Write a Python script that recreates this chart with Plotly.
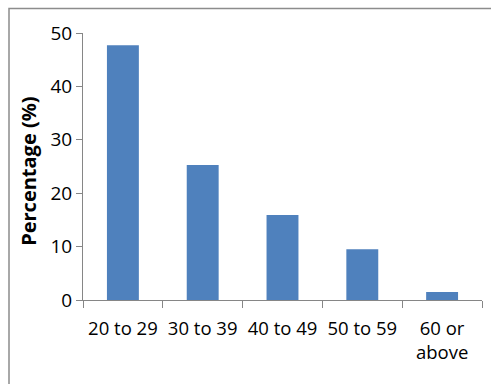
import plotly.graph_objects as go

# Age groups and their share of respondents
age_groups = ["20 to 29", "30 to 39", "40 to 49", "50 to 59", "60 or above"]
age_labels = ["20 to 29", "30 to 39", "40 to 49", "50 to 59", "60 or<br>above"]
percentages = [47.7, 25.3, 15.9, 9.5, 1.5]
y_ticks = [0, 10, 20, 30, 40, 50]
y_title = "<b>Percentage (%)</b>"

W, H = 491, 384
L, R, T, B = 83, 9, 33, 84

fig = go.Figure(
    go.Bar(
        x=age_groups,
        y=percentages,
        width=0.4,
        marker=dict(color="#4f81bd", line=dict(width=0)),
    )
)

axis_grey = "#868686"
fig.update_layout(
    width=W,
    height=H,
    margin=dict(l=L, r=R, t=T, b=B, pad=0, autoexpand=False),
    paper_bgcolor="white",
    plot_bgcolor="white",
    showlegend=False,
    font=dict(family="Open Sans", size=19, color="black"),
    xaxis=dict(
        tickmode="array",
        tickvals=age_groups,
        ticktext=age_labels,
        tickson="boundaries",
        tickangle=0,
        automargin=False,
        ticks="outside",
        ticklen=7,
        tickcolor=axis_grey,
        showline=True,
        linecolor=axis_grey,
        linewidth=1,
        showgrid=False,
        tickfont=dict(size=18.5),
        ticklabelstandoff=12,
    ),
    yaxis=dict(
        range=[0, 50],
        tickvals=y_ticks,
        automargin=False,
        ticks="outside",
        ticklen=6,
        tickcolor=axis_grey,
        showline=True,
        linecolor=axis_grey,
        linewidth=1,
        showgrid=False,
        zeroline=False,
        tickfont=dict(size=19),
    ),
)

pw = W - L - R
ph = H - T - B

# Rotated y-axis title, placed left of the tick labels
fig.add_annotation(
    text=y_title,
    textangle=-90,
    xref="paper",
    yref="paper",
    x=(29 - L) / pw,
    y=0.48,
    xanchor="center",
    yanchor="middle",
    showarrow=False,
    font=dict(size=20, color="black"),
)

# Chart frame around the whole figure
fig.add_shape(
    type="rect",
    xref="paper",
    yref="paper",
    x0=(9 - L) / pw,
    x1=(W + 5 - L) / pw,
    y0=-(B + 10) / ph,
    y1=(H - B - 8.5) / ph,
    line=dict(color="#8c8c8c", width=1.5),
    fillcolor="rgba(0,0,0,0)",
    layer="below",
)

fig.write_html("out.html")
